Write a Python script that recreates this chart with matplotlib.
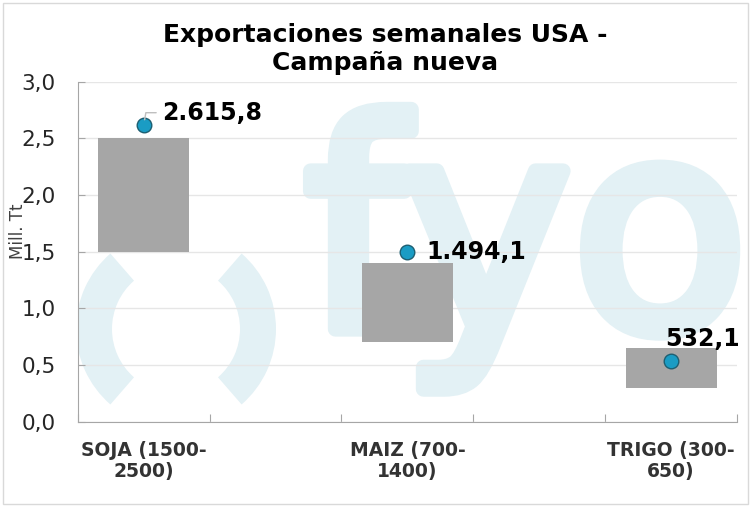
import numpy as np
import matplotlib.pyplot as plt
import matplotlib.patheffects as pe
from matplotlib.patches import Wedge, Rectangle

cats = ["SOJA (1500-\n2500)", "MAIZ (700-\n1400)", "TRIGO (300-\n650)"]
rango_min = [1.5, 0.7, 0.3]
rango_max = [2.5, 1.4, 0.65]
export = [2.6158, 1.4941, 0.5321]
etiquetas = ["2.615,8", "1.494,1", "532,1"]
yticks = [0.0, 0.5, 1.0, 1.5, 2.0, 2.5, 3.0]

pos = np.array([0.5, 2.5, 4.5])

fig = plt.figure(figsize=(7.51, 5.07), dpi=100)
ax = fig.add_axes([0.1035, 0.168, 0.878, 0.671])

wm = "#e3f1f5"
px = fig.dpi_scale_trans
H = 5.07
# marca de agua fyo
ax.text(3.04, H - 3.29, "fyo", transform=px, fontsize=208, color=wm,
        family="DejaVu Sans", ha="left", va="baseline", zorder=0,
        path_effects=[pe.withStroke(linewidth=11, foreground=wm)])
ax.add_patch(Wedge((1.76, H - 3.29), 1.00, 131, 229, width=0.36, transform=px,
                   color=wm, zorder=0, lw=0))
ax.add_patch(Wedge((1.76, H - 3.29), 1.00, -49, 49, width=0.36, transform=px,
                   color=wm, zorder=0, lw=0))

alto = np.array(rango_max) - np.array(rango_min)
ax.bar(pos, alto, bottom=rango_min, width=0.69, color="#a6a6a6", zorder=3)
ax.scatter(pos, export, s=110, color="#1a9cc4", edgecolor="#1d5f72",
           linewidth=1, zorder=4)

# etiquetas de valores
ax.annotate(etiquetas[0], (pos[0], export[0]), xytext=(13, 9),
            textcoords="offset points", fontsize=17, fontweight="bold",
            va="center", ha="left", zorder=5,
            arrowprops=dict(arrowstyle="-", color="#bfbfbf", lw=1,
                            connectionstyle="angle,angleA=0,angleB=80,rad=0",
                            shrinkA=2, shrinkB=4))
ax.annotate(etiquetas[1], (pos[1], export[1]), xytext=(14, 0),
            textcoords="offset points", fontsize=17, fontweight="bold",
            va="center", ha="left", zorder=5)
ax.annotate(etiquetas[2], (pos[2], export[2]), xytext=(-4, 16),
            textcoords="offset points", fontsize=17, fontweight="bold",
            va="center", ha="left", zorder=5)

ax.set_xlim(0, 5)
ax.set_ylim(0, 3)
ax.set_yticks(yticks)
ax.set_yticklabels([f"{v:.1f}".replace(".", ",") for v in yticks],
                   fontsize=15.5, color="#262626")
ax.set_xticks(range(6))
ax.set_xticklabels([])
ax.set_xticks(pos, minor=True)
ax.set_xticklabels(cats, minor=True, fontsize=13.5, fontweight="bold",
                   color="#333333", linespacing=1.1)
ax.tick_params(axis="x", which="major", direction="in", length=6,
               color="#a6a6a6")
ax.tick_params(axis="x", which="minor", length=0, pad=14)
ax.tick_params(axis="y", direction="in", length=5, color="#a6a6a6", pad=16)
ax.grid(axis="y", color="#e6e6e6", lw=1, zorder=1)
ax.set_axisbelow(True)
for s in ["top", "right"]:
    ax.spines[s].set_visible(False)
for s in ["left", "bottom"]:
    ax.spines[s].set_color("#a6a6a6")

fig.text(18 / 751, 1 - 231 / 507, "Mill. Tt", rotation=90, fontsize=12,
         ha="center", va="center", color="#404040")
fig.text(385 / 751, 1 - 49 / 507, "Exportaciones semanales USA -\nCampaña nueva",
         fontsize=18, fontweight="bold", ha="center", va="center",
         linespacing=1.2)

fig.patches.append(Rectangle((0.004, 0.006), 0.992, 0.988, transform=fig.transFigure,
                             fill=False, edgecolor="#d9d9d9", lw=1))

plt.savefig("out.png")
